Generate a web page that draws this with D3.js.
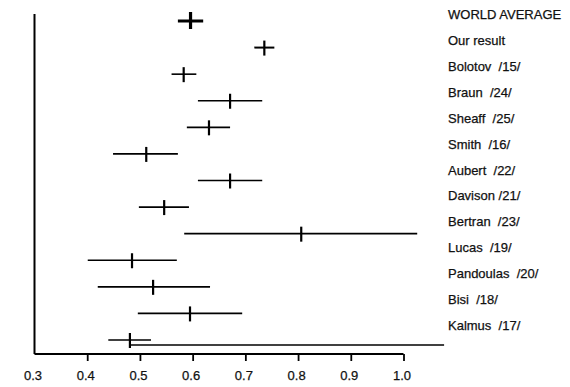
<!DOCTYPE html>
<html>
<head>
<meta charset="utf-8">
<script src="https://cdn.jsdelivr.net/npm/d3@7"></script>
<style>
  body { margin: 0; background: #fff; }
  svg text { font-family: "Liberation Sans", Arial, sans-serif; fill: #111; white-space: pre; }
</style>
</head>
<body>
<div id="chart"></div>
<script>
// rows top to bottom
const labels = ["WORLD AVERAGE", "Our result", "Bolotov  /15/", "Braun  /24/", "Sheaff  /25/",
  "Smith  /16/", "Aubert  /22/", "Davison /21/", "Bertran  /23/", "Lucas  /19/",
  "Pandoulas  /20/", "Bisi  /18/", "Kalmus  /17/"];
const values = [0.596, 0.736, 0.583, 0.671, 0.631, 0.512, 0.671, 0.546, 0.806, 0.485, 0.525, 0.595, 0.481];
const lows   = [0.572, 0.717, 0.560, 0.610, 0.589, 0.449, 0.610, 0.498, 0.584, 0.401, 0.420, 0.496, 0.440];
const highs  = [0.620, 0.755, 0.607, 0.732, 0.671, 0.572, 0.732, 0.593, 1.026, 0.570, 0.633, 0.694, 0.521];
const ticks = [0.3, 0.4, 0.5, 0.6, 0.7, 0.8, 0.9, 1.0];
// Kalmus upper limit line runs off past the axis
const kalmusTail = 1.077;

const width = 570, height = 387;

const svg = d3.select("#chart").append("svg")
    .attr("width", width)
    .attr("height", height);

const x = d3.scaleLinear().domain([0.3, 1.0]).range([34.5, 403.5]);
const y = d3.scalePoint().domain(d3.range(labels.length)).range([21, 340]);
const yLabel = d3.scalePoint().domain(d3.range(labels.length)).range([14, 325]);

// frame: left line + bottom axis
svg.append("line")
    .attr("x1", x(0.3)).attr("x2", x(0.3))
    .attr("y1", 14).attr("y2", 354)
    .attr("stroke", "#000").attr("stroke-width", 2);

const axis = svg.append("g")
    .attr("transform", "translate(0,354)")
    .call(d3.axisBottom(x)
        .tickValues(ticks)
        .tickSize(7)
        .tickPadding(10)
        .tickFormat(d3.format(".1f")));

axis.select(".domain").attr("stroke", "#000").attr("stroke-width", 2)
    .attr("d", "M" + x(0.3) + ",0H" + x(1.0));
axis.selectAll(".tick line").attr("stroke", "#000").attr("stroke-width", 1.8);
axis.selectAll(".tick").filter(d => d === 0.3).select("line").remove();
axis.selectAll(".tick text")
    .attr("font-size", 13)
    .attr("dx", -2)
    .style("font-family", "'Liberation Sans', Arial, sans-serif")
    .style("fill", "#111")
    .style("stroke", "#111")
    .style("stroke-width", 0.25);

// error bars
const rows = svg.selectAll(".row")
    .data(d3.range(labels.length))
    .enter()
    .append("g")
    .attr("class", "row");

rows.append("line")
    .attr("x1", i => x(lows[i]))
    .attr("x2", i => x(highs[i]))
    .attr("y1", i => y(i)).attr("y2", i => y(i))
    .attr("stroke", "#000")
    .attr("stroke-width", i => i === 0 ? 3 : (i === 1 ? 2 : 1.6));

rows.append("line")
    .attr("x1", i => x(values[i])).attr("x2", i => x(values[i]))
    .attr("y1", i => y(i) - (i === 0 ? 9 : 7))
    .attr("y2", i => y(i) + 8)
    .attr("stroke", "#000")
    .attr("stroke-width", i => i === 0 ? 3.2 : 2.2);

// Kalmus tail
const k = labels.length - 1;
svg.append("line")
    .attr("x1", x(values[k])).attr("x2", x(kalmusTail))
    .attr("y1", y(k) + 5).attr("y2", y(k) + 5)
    .attr("stroke", "#000").attr("stroke-width", 1.6);

// labels
svg.selectAll(".lbl")
    .data(labels)
    .enter()
    .append("text")
    .attr("class", "lbl")
    .attr("x", 448)
    .attr("y", (d, i) => yLabel(i) + 5)
    .attr("font-size", 13)
    .attr("stroke", "#111")
    .attr("stroke-width", 0.25)
    .text(d => d);
</script>
</body>
</html>
